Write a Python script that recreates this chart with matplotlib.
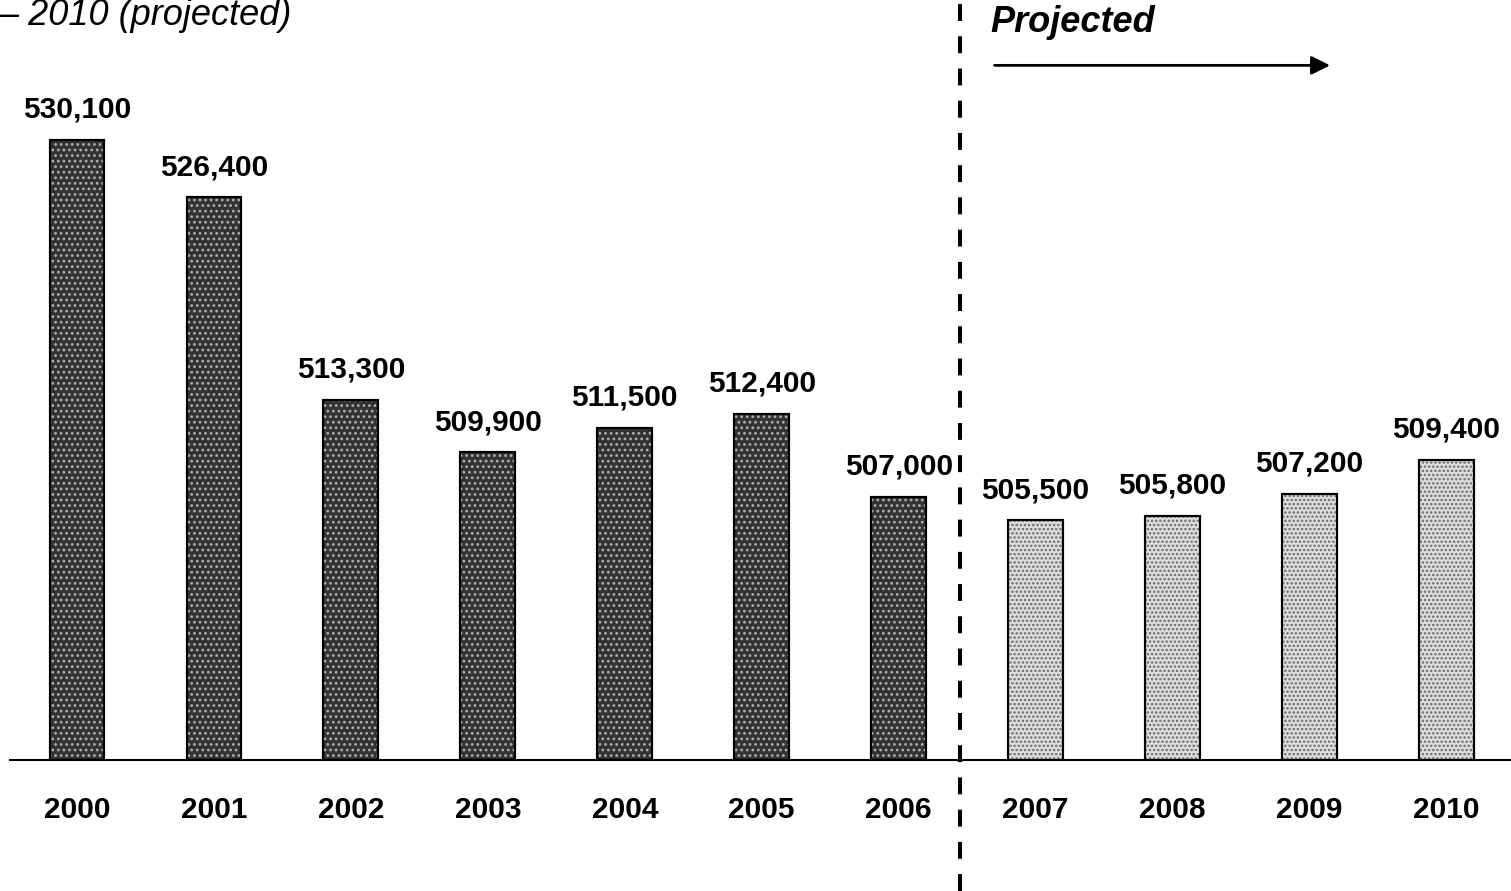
import matplotlib
matplotlib.use('Agg')
import matplotlib.pyplot as plt
from matplotlib import transforms

plt.rcParams['font.family'] = ['Liberation Sans', 'DejaVu Sans']
plt.rcParams['hatch.linewidth'] = 1.2

# Enrollment by year, actual then projected
years = ['2000', '2001', '2002', '2003', '2004', '2005', '2006',
         '2007', '2008', '2009', '2010']
enrollment = [530100, 526400, 513300, 509900, 511500, 512400, 507000,
              505500, 505800, 507200, 509400]
projected = [False] * 7 + [True] * 4

W, H = 1511, 891
fig = plt.figure(figsize=(W / 100, H / 100), dpi=100)
ax = fig.add_axes([10 / W, 1 - 760 / H, 1501 / W, 760 / H])

xs = list(range(len(years)))
for x, v, p in zip(xs, enrollment, projected):
    if p:
        face, dots, pattern = '#dedede', '#6a6a6a', '....'
    else:
        face, dots, pattern = '#333333', '#b0b0b0', '...'
    ax.bar(x, v - 490000, bottom=490000, width=0.40, color=face,
           edgecolor='black', linewidth=1.5, zorder=2)
    # speckle pattern on top of the fill
    ax.bar(x, v - 490000, bottom=490000, width=0.40, color='none',
           edgecolor=dots, hatch=pattern, linewidth=0, zorder=3)
    ax.bar(x, v - 490000, bottom=490000, width=0.40, color='none',
           edgecolor='black', linewidth=1.5, zorder=4)
    ax.annotate('{:,}'.format(v), (x, v), xytext=(0, 16),
                textcoords='offset points', ha='center', va='baseline',
                fontsize=21.5, fontweight='bold')

ax.set_xlim(-0.489, 10.471)
ax.set_ylim(490000, 539160)
ax.set_xticks(xs)
ax.set_xticklabels(years, fontsize=21.5, fontweight='bold')
ax.tick_params(axis='x', length=0, pad=26)
ax.set_yticks([])
for s in ['top', 'right', 'left']:
    ax.spines[s].set_visible(False)
ax.spines['bottom'].set_linewidth(1.5)

# divider between actual and projected years
trans = transforms.blended_transform_factory(ax.transData, ax.transAxes)
ax.plot([6.45, 6.45], [-131 / 760, 1.0], transform=trans, color='black',
        lw=2.9, dashes=(4.2, 3.8), clip_on=False, zorder=5)

ax.text(6.667, 0.971, 'Projected', transform=trans, fontsize=26,
        fontweight='bold', style='italic', va='center', ha='left')
ax.annotate('', xy=(9.15, 0.914), xytext=(6.70, 0.914),
            xycoords=trans, textcoords=trans,
            arrowprops=dict(arrowstyle='-|>', lw=2, color='black',
                            mutation_scale=28, shrinkA=0, shrinkB=0))

fig.text(-2 / W, 1 - 25 / H, '\u2013 2010 (projected)', fontsize=26,
         style='italic', ha='left', va='baseline')

fig.savefig('out.png', dpi=100)
